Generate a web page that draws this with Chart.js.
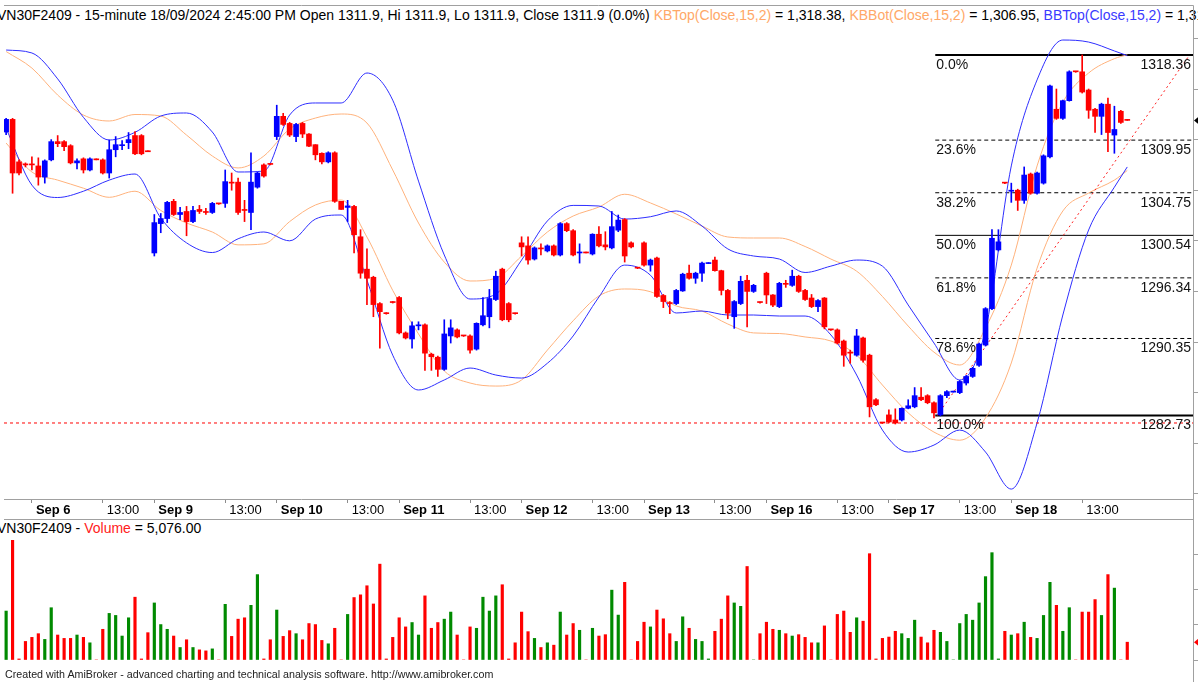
<!DOCTYPE html>
<html>
<head>
<meta charset="utf-8">
<script src="https://cdn.jsdelivr.net/npm/chart.js@4.4.1/dist/chart.umd.min.js"></script>
<style>
  body { margin:0; width:1198px; height:682px; overflow:hidden; background:#fff; position:relative;
         font-family:'Liberation Sans', Arial, sans-serif; }
  .txt { position:absolute; white-space:nowrap; color:#000; }
  canvas { position:absolute; left:0; }
</style>
</head>
<body>
<div class="txt" style="left:-3px; top:7px; font-size:14px;">VN30F2409 - 15-minute 18/09/2024 2:45:00 PM Open 1311.9, Hi 1311.9, Lo 1311.9, Close 1311.9 (0.0%) <span style="color:#ffa868">KBTop(Close,15,2)</span> = 1,318.38, <span style="color:#ffa868">KBBot(Close,15,2)</span> = 1,306.95, <span style="color:#3a3aff">BBTop(Close,15,2)</span> = 1,319.06</div>
<canvas id="price" width="1250" height="520" style="top:0"></canvas>
<div class="txt" style="left:-3px; top:520px; font-size:14px;">VN30F2409 - <span style="color:#ff2020">Volume</span> = 5,076.00</div>
<canvas id="vol" width="1250" height="162" style="top:520px"></canvas>
<div class="txt" style="left:5px; top:668px; font-size:10.7px; color:#222;">Created with AmiBroker - advanced charting and technical analysis software. http://www.amibroker.com</div>

<script>
// 15-minute bars, Sep 5 14:00 .. Sep 18 14:45
const openP = [1310.75,1312.0,1307.8,1307.6,1307.6,1307.4,1306.3,1308.0,1309.8,1309.8,1309.4,1307.7,1308.1,1307.0,1308.1,1308.0,1306.7,1309.0,1309.4,1309.7,1310.4,1310.4,1308.9,
  1298.8,1301.7,1302.2,1303.9,1302.6,1302.9,1301.9,1303.1,1302.9,1302.8,1303.7,1303.7,1305.8,1305.8,1303.1,1302.8,1305.3,1307.5,1307.6,
  1310.3,1312.3,1311.6,1310.3,1311.6,1310.55,1309.5,1308.65,1307.8,1308.7,1303.9,1303.3,1303.4,1300.4,1297.2,1296.4,1293.8,1292.85,1293.95,
  1294.4,1290.9,1290.3,1291.6,1291.7,1288.8,1288.5,1287.3,1290.6,1291.2,1290.65,1290.6,1289.3,1291.7,1292.5,1294.2,1297.2,1293.8,1292.85,
  1299.8,1299.5,1298.2,1299.25,1299.0,1299.5,1298.6,1301.7,1301.0,1298.8,1298.85,1298.7,1300.65,1299.6,1299.3,1301.05,1302.1,1299.8,1297.35,
  1299.8,1297.6,1298.3,1294.6,1293.85,1293.8,1295.05,1296.8,1296.3,1296.8,1297.75,1298.1,1297.05,1295.1,1292.5,1293.8,1296.1,1295.0,1293.95,
  1296.8,1294.65,1293.5,1295.75,1295.6,1296.5,1295.1,1294.35,1293.5,1294.35,1291.25,1291.2,1290.1,1288.95,1288.7,1290.4,1288.7,1284.3,1282.05,
  1282.8,1282.3,1282.3,1283.45,1283.6,1284.55,1284.7,1284.0,1282.8,1284.7,1285.05,1285.0,1285.95,1286.6,1287.7,1289.7,1293.3,1299.1,1305.75,
  1304.9,1305.0,1304.0,1306.6,1304.7,1305.7,1308.3,1313.0,1312.1,1313.85,1316.75,1316.7,1314.9,1313.0,1312.3,1313.5,1310.45,1312.8,1311.9];
const highP = [1312.1,1312.1,1308.0,1307.7,1308.3,1308.2,1308.0,1310.0,1310.4,1309.9,1309.5,1308.1,1308.2,1308.2,1308.1,1308.1,1309.96,1310.3,1309.9,1310.7,1310.8,1310.5,1308.9,
  1302.6,1302.7,1303.9,1304.1,1303.3,1303.4,1303.4,1303.5,1303.2,1303.8,1303.7,1307.0,1306.7,1306.2,1304.0,1308.7,1306.8,1307.6,1307.6,
  1313.4,1312.6,1311.7,1311.6,1311.7,1310.6,1309.5,1308.7,1308.8,1308.8,1303.9,1304.0,1303.5,1301.1,1299.2,1296.5,1293.9,1292.9,1294.0,
  1294.5,1291.0,1292.0,1292.0,1291.8,1288.9,1288.6,1292.2,1292.2,1291.3,1290.65,1290.7,1291.9,1294.4,1295.2,1297.0,1297.3,1293.9,1292.85,
  1300.4,1300.4,1299.4,1299.7,1299.6,1299.6,1301.8,1301.8,1301.1,1299.7,1298.85,1300.7,1301.4,1300.9,1302.9,1302.55,1302.2,1299.9,1297.35,
  1299.9,1298.2,1298.4,1294.7,1294.0,1295.2,1296.8,1297.6,1296.9,1297.9,1297.85,1298.4,1297.1,1295.2,1294.1,1296.5,1296.6,1295.7,1293.95,
  1296.9,1294.7,1295.9,1296.1,1297.1,1296.6,1295.2,1294.7,1294.2,1294.4,1291.25,1291.3,1290.2,1289.2,1291.25,1290.5,1288.8,1284.4,1282.05,
  1283.3,1283.4,1283.5,1284.3,1285.5,1285.5,1284.8,1284.1,1284.8,1285.2,1285.15,1286.2,1286.7,1287.5,1289.9,1293.4,1301.1,1301.1,1305.75,
  1305.7,1305.1,1307.3,1306.7,1306.8,1308.5,1315.4,1315.0,1313.9,1316.8,1316.75,1318.36,1315.0,1313.1,1313.6,1314.1,1313.3,1312.9,1311.9];
const lowP = [1310.5,1304.7,1306.5,1307.3,1307.0,1305.5,1305.7,1307.9,1309.3,1308.9,1307.6,1307.1,1306.7,1306.9,1308.0,1306.6,1306.2,1308.3,1309.0,1309.1,1308.5,1308.5,1308.8,
  1298.5,1300.8,1301.8,1302.5,1302.1,1300.5,1301.8,1302.7,1302.6,1302.7,1303.6,1303.3,1305.0,1302.6,1301.9,1301.1,1305.2,1306.3,1307.5,
  1310.0,1311.4,1310.3,1309.8,1310.2,1309.3,1308.0,1307.6,1307.7,1303.8,1303.1,1301.9,1298.8,1296.3,1293.7,1292.5,1289.4,1292.75,1293.85,
  1290.8,1290.3,1289.4,1291.2,1287.2,1287.2,1286.6,1287.2,1289.9,1290.4,1290.55,1288.9,1289.2,1291.6,1291.4,1294.1,1292.1,1292.0,1292.75,
  1298.5,1297.7,1298.1,1298.6,1298.9,1298.5,1298.5,1300.9,1298.5,1297.8,1298.8,1298.6,1299.4,1299.1,1299.2,1300.9,1297.9,1299.3,1297.25,
  1297.5,1297.0,1294.4,1293.4,1292.8,1293.7,1295.0,1296.2,1295.8,1296.0,1297.75,1297.0,1294.65,1292.3,1291.35,1293.7,1291.5,1294.9,1293.85,
  1293.8,1293.5,1293.4,1295.4,1295.5,1294.9,1294.1,1293.4,1293.0,1291.3,1291.15,1289.8,1287.6,1287.9,1288.6,1288.0,1282.6,1283.7,1281.95,
  1282.0,1281.9,1282.2,1283.4,1283.5,1284.2,1283.9,1282.5,1282.7,1284.5,1285.05,1284.9,1285.75,1286.5,1287.6,1289.6,1293.2,1299.0,1305.65,
  1303.8,1303.0,1303.7,1304.6,1304.6,1305.6,1308.2,1312.0,1312.0,1313.8,1316.65,1314.6,1312.1,1310.7,1310.5,1308.8,1308.65,1311.6,1311.9];
const closeP = [1312.0,1306.7,1306.7,1307.5,1307.5,1306.3,1307.9,1309.8,1309.6,1309.3,1307.7,1307.9,1307.0,1308.1,1308.0,1306.7,1309.0,1309.5,1309.5,1310.0,1308.6,1308.6,1308.8,
  1301.8,1302.2,1303.8,1302.6,1302.8,1301.9,1303.0,1302.9,1302.8,1303.7,1303.65,1305.85,1305.7,1302.8,1303.0,1305.8,1306.7,1306.4,1307.55,
  1312.3,1311.5,1310.45,1311.5,1310.55,1309.35,1308.5,1307.8,1308.7,1303.9,1303.1,1303.45,1300.6,1296.8,1296.3,1293.7,1293.0,1292.8,1293.9,
  1290.9,1290.4,1291.6,1291.7,1288.9,1288.55,1287.3,1290.8,1291.4,1290.5,1290.6,1289.2,1291.85,1292.6,1294.3,1296.5,1292.2,1292.2,1292.8,
  1299.4,1298.1,1299.3,1299.2,1299.5,1298.6,1301.7,1301.0,1298.6,1298.85,1298.8,1300.65,1299.5,1299.4,1301.4,1302.05,1298.5,1299.4,1297.3,
  1297.6,1298.1,1294.5,1294.0,1293.8,1295.1,1296.7,1296.3,1296.8,1297.8,1297.8,1297.05,1295.1,1292.85,1294.0,1296.0,1295.0,1295.6,1293.9,
  1294.65,1293.65,1295.8,1295.7,1296.5,1295.0,1294.2,1293.5,1294.1,1291.5,1291.2,1289.9,1288.7,1288.9,1290.6,1288.2,1283.6,1283.8,1282.0,
  1282.1,1282.0,1283.45,1283.7,1284.7,1284.3,1284.0,1283.0,1284.7,1285.1,1285.1,1286.1,1286.6,1287.4,1289.8,1293.3,1300.25,1299.9,1305.7,
  1305.0,1304.0,1306.5,1304.7,1306.7,1308.4,1315.3,1312.1,1313.85,1316.7,1316.7,1314.7,1312.9,1312.3,1313.5,1310.7,1311.0,1311.7,1311.9];
const volume = [13950,34150,300,5290,6450,7500,5870,14900,7120,6160,6160,7120,6450,4900,0,8750,13280,12700,6830,12030,17900,300,7790,
  16260,10100,8750,6830,3560,5770,3560,2890,2600,3170,0,15870,6730,11640,12030,15580,24340,300,5770,
  14240,6730,8370,7500,5770,10390,10100,5580,4620,9040,0,12990,17800,18570,21160,15970,27320,300,6450,
  12030,9430,10680,7120,18280,9040,10680,11640,13660,7120,0,9430,9040,17900,13950,18280,21450,300,4900,
  13660,8080,6160,3560,4900,4230,13660,7120,10390,8470,0,9040,6830,7220,19910,12800,22130,0,5290,
  10770,9430,14240,11740,7500,5290,12310,9040,5870,5290,300,8180,11640,18280,16260,15300,26650,0,7500,
  10770,8750,8470,7500,6830,7220,6450,4900,4900,9720,0,12990,13950,7890,12030,11060,30300,300,6160,
  6540,8180,7500,6160,11350,6540,4900,8470,7890,5290,0,10390,12990,11350,16260,23760,30590,300,8180,
  7120,7500,10770,6450,6160,12700,22130,15580,8180,14910,0,13660,13660,17220,12700,24340,20490,0,5076];

// Bollinger / Keltner bands read at every 4th bar
const bandIdx = [0,4,8,12,16,20,24,28,32,36,40,44,48,52,56,60,64,68,72,76,80,84,88,92,96,100,104,108,112,116,120,124,128,132,136,140,144,148,152,156,160,164,168,172,174];
const bbTop = [1318.85,1318.56,1316.0,1312.2,1309.96,1310.72,1312.33,1312.63,1310.75,1306.8,1306.9,1312.43,1313.62,1313.62,1316.58,1313.9,1305.9,1298.6,1294.25,1294.74,1298.1,1301.96,1303.5,1303.44,1302.15,1302.38,1302.95,1301.46,1299.2,1298.5,1298.2,1296.87,1297.5,1298.1,1297.5,1293.66,1289.9,1286.25,1291.2,1307.4,1315.9,1319.84,1319.64,1318.76,1318.3];
const bbBot = [1311.1,1305.5,1304.28,1304.9,1306.0,1306.6,1302.25,1299.8,1298.84,1300.2,1300.87,1300.0,1302.15,1302.55,1296.1,1288.7,1285.26,1286.25,1287.43,1286.74,1286.44,1287.9,1290.6,1294.45,1297.6,1296.6,1292.87,1293.06,1292.67,1292.67,1292.57,1292.57,1290.7,1286.74,1281.3,1279.13,1279.82,1281.3,1279.13,1275.47,1282.0,1292.67,1301.07,1305.3,1307.3];
const kbTop = [1318.7,1317.07,1314.4,1312.43,1311.84,1312.48,1312.33,1310.45,1308.38,1307.2,1308.38,1311.05,1312.13,1312.53,1311.64,1307.0,1301.76,1297.9,1296.03,1296.3,1298.5,1300.87,1302.45,1303.34,1304.6,1303.74,1302.65,1301.46,1300.38,1300.28,1300.28,1299.44,1298.2,1297.0,1294.5,1291.58,1289.0,1287.73,1291.38,1297.6,1307.4,1313.7,1316.58,1318.0,1318.38];
const kbBot = [1309.66,1306.8,1306.0,1305.2,1304.3,1304.9,1303.0,1301.76,1300.87,1299.6,1299.7,1301.9,1303.54,1304.03,1300.37,1295.1,1290.8,1287.14,1285.95,1285.65,1286.25,1289.2,1292.1,1294.55,1295.24,1294.97,1293.56,1293.06,1291.78,1290.9,1290.84,1290.5,1290.1,1288.7,1285.75,1283.0,1281.1,1280.3,1282.5,1287.93,1297.3,1302.95,1304.72,1306.0,1306.95];

const dayLabels = ['Sep 6','Sep 9','Sep 10','Sep 11','Sep 12','Sep 13','Sep 16','Sep 17','Sep 18'];
const dayStart = [4,23,42,61,80,99,118,137,156];
const noonLabel = '13:00';
const yTicks = [1275,1280,1285,1290,1295,1300,1305,1310,1315,1320];
const volTicks = [0,10000,20000,30000];

const fibPct = ['0.0%','23.6%','38.2%','50.0%','61.8%','78.6%','100.0%'];
const fibVal = [1318.36,1309.95,1304.75,1300.54,1296.34,1290.35,1282.73];
const fibStart = 144.2;
const supportLevel = 1282.0;
const trendLine = [[144.5, 1282.73], [183.6, 1318.3]];

const X_MIN = -0.33, X_MAX = 184.2;
const Y_MIN = 1274.49, Y_MAX = 1320.04;

Chart.defaults.font.family = "'Liberation Sans', Arial, sans-serif";
Chart.defaults.animation = false;

const UP = '#0000ff', DOWN = '#ff0000';
const VUP = '#008a00', VDOWN = '#ff0000';
const idx = openP.map((_, i) => i);
const isUp = i => closeP[i] > openP[i];
const candleColors = idx.map(i => isUp(i) ? UP : DOWN);

const xTickIdx = [], xTickText = [];
dayStart.forEach((d, k) => { xTickIdx.push(d, d + 11); xTickText.push(dayLabels[k], noonLabel); });

const line = (pts, color, width, dash, order, smooth) => ({
  type: 'line', data: pts, borderColor: color, borderWidth: width, borderDash: dash || [],
  pointRadius: 0, tension: smooth ? 0.4 : 0, cubicInterpolationMode: smooth ? 'monotone' : 'default',
  fill: false, order: order
});
const band = (vals) => bandIdx.map((x, k) => ({ x, y: vals[k] }));

const fibSets = fibVal.map((v, k) => line(
  [{ x: fibStart, y: v }, { x: X_MAX, y: v }], '#000',
  (k === 0 || k === fibVal.length - 1) ? 2 : 1,
  (k === 0 || k === 3 || k === fibVal.length - 1) ? [] : [4, 3], 4));

const priceOverlay = {
  id: 'priceOverlay',
  afterDraw(chart) {
    const { ctx, chartArea: a, scales: { x, y } } = chart;
    ctx.save();
    ctx.strokeStyle = '#a0a0a0'; ctx.lineWidth = 1;
    ctx.beginPath();
    ctx.moveTo(a.left, 5.5); ctx.lineTo(a.right + 0.5, 5.5);
    ctx.moveTo(a.right + 0.5, 5.5); ctx.lineTo(a.right + 0.5, 520);
    ctx.moveTo(a.left, 519.5); ctx.lineTo(a.right, 519.5);
    ctx.stroke();
    ctx.font = "14px 'Liberation Sans', Arial";
    ctx.fillStyle = '#111'; ctx.textBaseline = 'top';
    fibVal.forEach((v, k) => {
      const py = y.getPixelForValue(v);
      ctx.textAlign = 'left';
      ctx.fillText(fibPct[k], x.getPixelForValue(fibStart) + 1, py + 3);
      ctx.textAlign = 'right';
      ctx.fillText(v.toFixed(2), a.right - 2, py + 3);
    });
    const py = y.getPixelForValue(closeP[closeP.length - 1]);
    ctx.fillStyle = '#000';
    ctx.beginPath(); ctx.moveTo(a.right + 1, py); ctx.lineTo(a.right + 7, py - 5); ctx.lineTo(a.right + 7, py + 5); ctx.fill();
    ctx.restore();
  }
};

new Chart(document.getElementById('price'), {
  type: 'bar',
  data: {
    datasets: [
      { data: idx.map(i => ({ x: i, y: [lowP[i], highP[i]] })), backgroundColor: candleColors,
        barThickness: 1, grouped: false, minBarLength: 1, order: 1 },
      { data: idx.map(i => ({ x: i, y: [openP[i], closeP[i]] })), backgroundColor: candleColors,
        barThickness: 5, grouped: false, minBarLength: 1, order: 0 },
      line(band(bbTop), '#2e2eff', 1, null, 3, true),
      line(band(bbBot), '#2e2eff', 1, null, 3, true),
      line(band(kbTop), '#ffb27c', 1, null, 3, true),
      line(band(kbBot), '#ffb27c', 1, null, 3, true),
      ...fibSets,
      line([{ x: X_MIN, y: supportLevel }, { x: X_MAX, y: supportLevel }], '#ff0000', 1, [3, 3], 2),
      line(trendLine.map(p => ({ x: p[0], y: p[1] })), '#ff2020', 1, [2, 3], 2)
    ]
  },
  options: {
    responsive: false,
    layout: { padding: { left: 4, top: 38, right: 0, bottom: 0 }, autoPadding: false },
    plugins: { legend: { display: false }, tooltip: { enabled: false } },
    scales: {
      x: {
        type: 'linear', min: X_MIN, max: X_MAX, offset: false,
        afterBuildTicks: s => { s.ticks = xTickIdx.map(v => ({ value: v })); },
        afterFit: s => { s.height = 21; },
        ticks: {
          autoSkip: false, maxRotation: 0, minRotation: 0, align: 'start', labelOffset: 4, padding: 0, color: '#000',
          callback: (v, i) => xTickText[i],
          font: c => ({ size: 13, weight: (c.tick && dayStart.includes(c.tick.value)) ? 'bold' : 'normal' })
        },
        grid: { drawOnChartArea: false, drawTicks: true, tickLength: 4, color: '#8c8c8c', offset: false },
        border: { color: '#a0a0a0' }
      },
      y: {
        position: 'right', min: Y_MIN, max: Y_MAX,
        afterBuildTicks: s => { s.ticks = yTicks.map(v => ({ value: v })); },
        afterFit: s => { s.width = 57; },
        ticks: { display: false },
        grid: { drawOnChartArea: false, drawTicks: true, tickLength: 5, color: '#a0a0a0' },
        border: { color: '#a0a0a0' }
      }
    }
  },
  plugins: [priceOverlay]
});

const volOverlay = {
  id: 'volOverlay',
  afterDraw(chart) {
    const { ctx, chartArea: a, scales: { y } } = chart;
    ctx.save();
    ctx.strokeStyle = '#a0a0a0'; ctx.lineWidth = 1;
    ctx.beginPath(); ctx.moveTo(a.right + 0.5, 0); ctx.lineTo(a.right + 0.5, chart.height); ctx.stroke();
    const py = y.getPixelForValue(volume[volume.length - 1]);
    ctx.fillStyle = '#ff0000';
    ctx.beginPath(); ctx.moveTo(a.right + 1, py); ctx.lineTo(a.right + 7, py - 5); ctx.lineTo(a.right + 7, py + 5); ctx.fill();
    ctx.restore();
  }
};

new Chart(document.getElementById('vol'), {
  type: 'bar',
  data: {
    datasets: [{ data: idx.map(i => ({ x: i, y: volume[i] })), backgroundColor: idx.map(i => isUp(i) ? VUP : VDOWN),
      barThickness: 2.5, grouped: false }]
  },
  options: {
    responsive: false,
    layout: { padding: { left: 4, top: 20, right: 0, bottom: 22 }, autoPadding: false },
    plugins: { legend: { display: false }, tooltip: { enabled: false } },
    scales: {
      x: { type: 'linear', min: X_MIN, max: X_MAX, offset: false, display: false },
      y: {
        position: 'right', min: 0, max: 34200,
        afterBuildTicks: s => { s.ticks = volTicks.map(v => ({ value: v })); },
        afterFit: s => { s.width = 57; },
        ticks: { display: false },
        grid: { drawOnChartArea: false, drawTicks: true, tickLength: 5, color: '#a0a0a0' },
        border: { color: '#a0a0a0' }
      }
    }
  },
  plugins: [volOverlay]
});
</script>
</body>
</html>
